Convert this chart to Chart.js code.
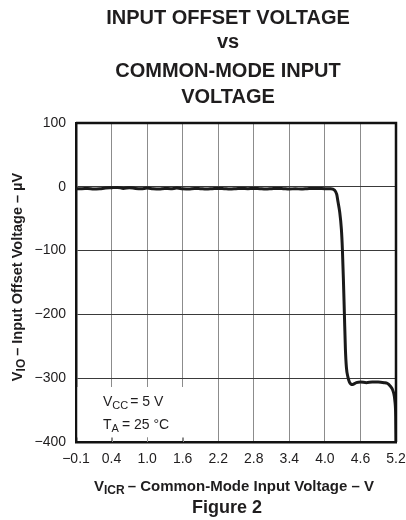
<!DOCTYPE html>
<html><head><meta charset="utf-8">
<script src="https://cdn.jsdelivr.net/npm/chart.js@4.4.1/dist/chart.umd.min.js"></script>
<style>html,body{margin:0;padding:0;background:#fff;}canvas{display:block}</style>
</head><body>
<canvas id="c" width="406" height="520"></canvas>
<script>
const titleLines = ['INPUT OFFSET VOLTAGE', 'vs', 'COMMON-MODE INPUT', 'VOLTAGE'];
const xTickLabels = ['\u22120.1', '0.4', '1.0', '1.6', '2.2', '2.8', '3.4', '4.0', '4.6', '5.2'];
const yTickLabels = ['\u2212400', '\u2212300', '\u2212200', '\u2212100', '0', '100'];
const figureLabel = 'Figure 2';

// V_ICR (V) — axis units
const vicr = [-0.2,-0.1,0.0,0.1,0.2,0.3,0.4,0.5,0.6,0.7,0.8,0.9,1.0,1.1,1.2,1.3,1.4,1.5,1.6,1.7,1.8,1.9,2.0,
  2.1,2.2,2.3,2.4,2.5,2.6,2.7,2.8,2.9,3.0,3.1,3.2,3.3,3.4,3.5,3.6,3.7,3.8,3.9,4.0,4.1,
  4.16,4.2,4.222,4.249,4.278,4.295,4.312,4.329,4.346,4.363,4.388,4.414,4.465,4.53,4.6,4.7,4.8,4.9,5.0,5.05,5.1,5.157,5.184,5.195,5.2];
// V_IO (µV)
const vio = [-3,-3,-2.5,-3.5,-3,-2,-1.5,-1,-2.5,-1.5,-2.5,-3,-2,-3,-3.5,-2.5,-3,-2,-3,-3.5,-2.5,-3,-3.5,
  -3,-2.5,-3,-3.5,-3,-2.5,-3,-2.5,-3,-3.5,-3,-2.5,-3,-3.5,-3,-3.5,-3,-2.5,-2.5,-3,-3,
  -5,-12,-24,-39,-66,-97,-144,-199,-254,-283,-298,-306,-310,-307,-306,-307,-306,-306,-307,-308,-312,-322,-338,-360,-400];

const FAM = 'Arial, "Liberation Sans", Helvetica, sans-serif';
const INK = '#1f1d1e';

function drawRuns(ctx, runs, x, y, align) {
  let w = 0;
  runs.forEach(r => { ctx.font = r.font; w += ctx.measureText(r.t).width + (r.gap || 0); });
  let cx = align === 'center' ? x - w / 2 : x;
  runs.forEach(r => {
    ctx.font = r.font;
    ctx.fillText(r.t, cx, y + (r.dy || 0));
    cx += ctx.measureText(r.t).width + (r.gap || 0);
  });
}

const textPlugin = {
  id: 'texts',
  beforeDatasetsDraw(chart) {
    const ctx = chart.ctx, a = chart.chartArea, xs = chart.scales.x;
    ctx.save();
    ctx.fillStyle = '#fff';
    const bx0 = a.left + 1.5, bx1 = 196, by0 = 387, by1 = a.bottom - 4.5;
    ctx.fillRect(bx0, by0, bx1 - bx0, by1 - by0);
    ctx.strokeStyle = '#8c8c8c';
    ctx.lineWidth = 1;
    xs.ticks.forEach(t => {
      const px = xs.getPixelForValue(t.value);
      if (px > bx0 + 2 && px < bx1) {
        ctx.beginPath(); ctx.moveTo(Math.round(px) + 0.5, by1); ctx.lineTo(Math.round(px) + 0.5, a.bottom); ctx.stroke();
      }
    });
    ctx.restore();
  },
  afterDatasetsDraw(chart) {
    const ctx = chart.ctx, a = chart.chartArea;
    ctx.save();
    ctx.strokeStyle = '#111';
    ctx.lineWidth = 2.5;
    ctx.beginPath();
    ctx.moveTo(a.left, a.top); ctx.lineTo(a.right, a.top); ctx.lineTo(a.right, a.bottom);
    ctx.stroke();
    ctx.restore();
  },
  afterDraw(chart) {
    const ctx = chart.ctx;
    ctx.save();
    ctx.fillStyle = INK;
    ctx.textBaseline = 'alphabetic';
    ctx.textAlign = 'left';
    const tb = [24, 48, 77, 103];
    titleLines.forEach((l, i) => drawRuns(ctx, [{t: l, font: 'bold 20px ' + FAM}], 228, tb[i], 'center'));
    drawRuns(ctx, [{t: 'V', font: '14px ' + FAM}, {t: 'CC', font: '11px ' + FAM, dy: 3, gap: 2}, {t: '= 5 V', font: '14px ' + FAM}], 103, 406, 'left');
    drawRuns(ctx, [{t: 'T', font: '14px ' + FAM}, {t: 'A', font: '11px ' + FAM, dy: 3, gap: 3}, {t: '= 25 \u00B0C', font: '14px ' + FAM}], 103, 429, 'left');
    drawRuns(ctx, [{t: 'V', font: 'bold 15px ' + FAM}, {t: 'ICR', font: 'bold 12px ' + FAM, dy: 3, gap: 3}, {t: '\u2013 Common-Mode Input Voltage \u2013 V', font: 'bold 15px ' + FAM}], 234, 491, 'center');
    drawRuns(ctx, [{t: figureLabel, font: 'bold 18px ' + FAM}], 227, 513, 'center');
    ctx.translate(21.5, 277);
    ctx.rotate(-Math.PI / 2);
    drawRuns(ctx, [{t: 'V', font: 'bold 14.5px ' + FAM}, {t: 'IO', font: 'bold 12px ' + FAM, dy: 3, gap: 3}, {t: '\u2013 Input Offset Voltage \u2013 \u00B5V', font: 'bold 14.5px ' + FAM}], 0, 0, 'center');
    ctx.restore();
  }
};

new Chart(document.getElementById('c'), {
  type: 'line',
  data: {
    datasets: [{
      data: vicr.map((x, i) => ({x: x, y: vio[i]})),
      borderColor: '#1a1a1a',
      borderWidth: 3,
      pointRadius: 0,
      fill: false,
      cubicInterpolationMode: 'monotone'
    }]
  },
  options: {
    responsive: false,
    animation: false,
    layout: {padding: {left: 0, right: 10, top: 123, bottom: 0}},
    plugins: {legend: {display: false}, tooltip: {enabled: false}, title: {display: false}},
    scales: {
      x: {
        type: 'linear', min: -0.2, max: 5.2,
        ticks: {stepSize: 0.6, autoSkip: false, maxRotation: 0, padding: 9, color: INK,
          font: {size: 14, family: FAM}, callback: (v, i) => xTickLabels[i]},
        grid: {color: '#8c8c8c', lineWidth: 1, drawTicks: false},
        border: {display: true, color: '#111', width: 2.5},
        afterFit(s) { s.height = 78; s.paddingLeft = 0; s.paddingRight = 0; }
      },
      y: {
        min: -400, max: 100,
        ticks: {stepSize: 100, padding: 10, color: INK, font: {size: 14, family: FAM},
          callback: (v, i) => yTickLabels[i]},
        grid: {color: '#3a3a3a', lineWidth: 1, drawTicks: false},
        border: {display: true, color: '#111', width: 2.5},
        afterFit(s) { s.width = 76; s.paddingTop = 0; s.paddingBottom = 0; }
      }
    }
  },
  plugins: [textPlugin]
});
</script>
</body></html>
